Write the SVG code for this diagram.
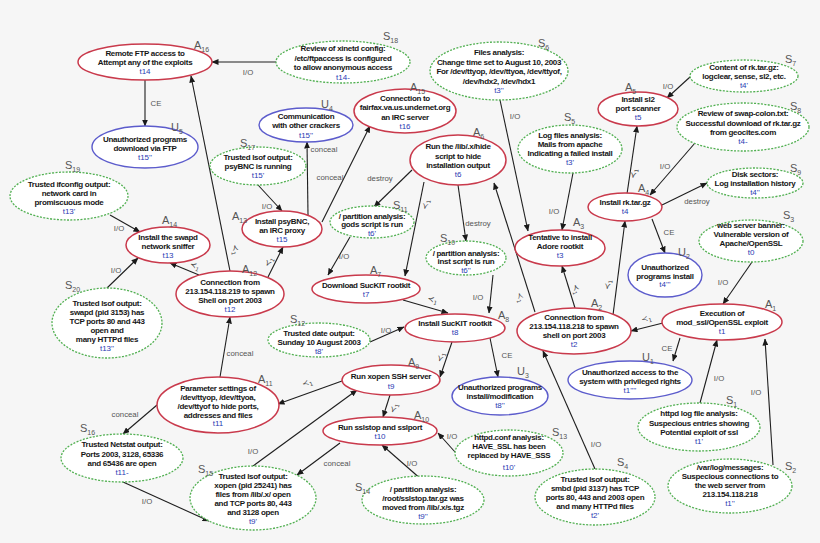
<svg xmlns="http://www.w3.org/2000/svg" width="820" height="543" viewBox="0 0 820 543">
<defs>
<marker id="ah" markerWidth="7" markerHeight="6" refX="6.5" refY="3" orient="auto" markerUnits="userSpaceOnUse">
<path d="M0,0 L7,3 L0,6 z" fill="#1a1a1a"/>
</marker>
<style>
.r{fill:#fff;stroke:#c93a4c;stroke-width:1.5}
.b{fill:#fff;stroke:#5c5ccc;stroke-width:1.4}
.g{fill:#fff;stroke:#52b052;stroke-width:1.3;stroke-dasharray:2 1.4}
.n{font-family:"Liberation Sans",Arial,sans-serif;font-size:8px;font-weight:bold;fill:#161616;text-anchor:middle;letter-spacing:-0.3px}
.t{font-family:"Liberation Sans",Arial,sans-serif;font-size:8px;fill:#2a3bb4;text-anchor:middle}
.id{font-family:"Liberation Sans",Arial,sans-serif;font-size:11px;fill:#555}
.sb{font-size:7px}
.e{font-family:"Liberation Sans",Arial,sans-serif;font-size:7.8px;fill:#555;text-anchor:middle}
.p{font-family:"DejaVu Sans",sans-serif;font-size:8px;fill:#444;text-anchor:middle}
.ps{font-size:5.5px}
#connectors line{stroke:#1e1e1e;stroke-width:1.1;marker-end:url(#ah)}
</style>
</defs>
<rect width="820" height="543" fill="#f6f6f6"/>

<g id="connectors">
<line x1="276" y1="62" x2="212" y2="62"/><text class="e" x="248" y="75">I/O</text>
<line x1="145" y1="80" x2="145" y2="126"/><text class="e" x="156" y="106">CE</text>
<line x1="230" y1="271" x2="191" y2="76"/><text class="p" transform="rotate(79 233 250)" x="233" y="250">≺<tspan class="ps" dy="2">1</tspan></text>
<line x1="308" y1="215" x2="307" y2="142"/><text class="e" x="324" y="152">conceal</text>
<line x1="322" y1="222" x2="370" y2="126"/><text class="e" x="330" y="180">conceal</text>
<line x1="258" y1="185" x2="282" y2="211"/><text class="e" x="267" y="209">I/O</text>
<line x1="268" y1="277" x2="283" y2="247"/><text class="p" transform="rotate(-64 271 263)" x="271" y="263">≺<tspan class="ps" dy="2">1</tspan></text>
<line x1="199" y1="275" x2="170" y2="263"/><text class="p" transform="rotate(22 194 268)" x="194" y="268">≺<tspan class="ps" dy="2">1</tspan></text>
<line x1="110" y1="215" x2="140" y2="232"/><text class="e" x="119" y="231">I/O</text>
<line x1="107" y1="288" x2="138" y2="258"/><text class="e" x="116" y="273">I/O</text>
<line x1="412" y1="170" x2="374" y2="207"/><text class="e" x="380" y="181">destroy</text>
<line x1="458" y1="185" x2="466" y2="241"/><text class="e" x="478" y="226">destroy</text>
<line x1="424" y1="182" x2="405" y2="276"/><text class="p" transform="rotate(-79 428 205)" x="428" y="205">≺<tspan class="ps" dy="2">1</tspan></text>
<line x1="350" y1="237" x2="328" y2="275"/><text class="e" x="344" y="259">I/O</text>
<line x1="493" y1="275" x2="489" y2="313"/><text class="e" x="478" y="300">I/O</text>
<line x1="403" y1="300" x2="448" y2="313"/><text class="p" transform="rotate(16 432 302)" x="432" y="302">≺<tspan class="ps" dy="2">1</tspan></text>
<line x1="370" y1="342" x2="404" y2="327"/><text class="e" x="386" y="333">I/O</text>
<line x1="500" y1="100" x2="528" y2="231"/><text class="e" x="515" y="119">I/O</text>
<line x1="573" y1="173" x2="562" y2="230"/><text class="e" x="554" y="214">I/O</text>
<line x1="575" y1="308" x2="562" y2="266"/><text class="p" transform="rotate(73 574 290)" x="574" y="290">≺<tspan class="ps" dy="2">1</tspan></text>
<line x1="535" y1="312" x2="494" y2="183"/><text class="p" transform="rotate(72 518 298)" x="518" y="298">≺<tspan class="ps" dy="2">1</tspan></text>
<line x1="627" y1="194" x2="637" y2="126"/><text class="p" transform="rotate(-82 636 174)" x="636" y="174">≺<tspan class="ps" dy="2">1</tspan></text>
<line x1="690" y1="77" x2="667" y2="98"/><text class="e" x="668" y="89">I/O</text>
<line x1="695" y1="143" x2="650" y2="195"/><text class="e" x="665" y="169">I/O</text>
<line x1="662" y1="205" x2="707" y2="183"/><text class="e" x="697" y="204">destroy</text>
<line x1="652" y1="219" x2="665" y2="253"/><text class="e" x="669" y="235">CE</text>
<line x1="613" y1="315" x2="625" y2="221"/><text class="p" transform="rotate(-83 610 285)" x="610" y="285">≺<tspan class="ps" dy="2">1</tspan></text>
<line x1="752" y1="262" x2="723" y2="304"/><text class="e" x="723" y="285">I/O</text>
<line x1="663" y1="323" x2="631" y2="331"/><text class="p" transform="rotate(-14 647 321)" x="647" y="321">≺<tspan class="ps" dy="2">1</tspan></text>
<line x1="680" y1="338" x2="673" y2="361"/><text class="e" x="667" y="351">CE</text>
<line x1="700" y1="403" x2="717" y2="340"/><text class="e" x="719" y="381">I/O</text>
<line x1="773" y1="465" x2="765" y2="339"/><text class="e" x="756" y="395">I/O</text>
<line x1="595" y1="469" x2="543" y2="351"/><text class="e" x="596" y="447">I/O</text>
<line x1="452" y1="342" x2="440" y2="377"/><text class="p" transform="rotate(-72 443 358)" x="443" y="358">≺<tspan class="ps" dy="2">1</tspan></text>
<line x1="490" y1="338" x2="498" y2="377"/><text class="e" x="507" y="358">CE</text>
<line x1="342" y1="381" x2="278" y2="404"/><text class="p" transform="rotate(-21 308 385)" x="308" y="385">≺<tspan class="ps" dy="2">1</tspan></text>
<line x1="390" y1="395" x2="383" y2="417"/><text class="p" transform="rotate(-72 396 409)" x="396" y="409">≺<tspan class="ps" dy="2">1</tspan></text>
<line x1="220" y1="377" x2="230" y2="317"/><text class="e" x="240" y="356">conceal</text>
<line x1="157" y1="405" x2="123" y2="434"/><text class="e" x="125" y="417">conceal</text>
<line x1="123" y1="482" x2="209" y2="521"/><text class="e" x="147" y="504">I/O</text>
<line x1="253" y1="466" x2="357" y2="390"/><text class="e" x="253" y="454">I/O</text>
<line x1="340" y1="443" x2="297" y2="475"/><text class="e" x="337" y="466">conceal</text>
<line x1="455" y1="452" x2="438" y2="433"/><text class="e" x="452" y="439">I/O</text>
<line x1="422" y1="480" x2="382" y2="445"/><text class="e" x="412" y="466">I/O</text>
</g>

<g id="A16"><ellipse class="r" cx="145" cy="62" rx="67" ry="18"/><text class="n" x="145" y="56">Remote FTP access to</text><text class="n" x="145" y="65">Attempt any of the exploits</text><text class="t" x="145" y="74">t14</text><text class="id" x="194" y="49">A<tspan class="sb" dy="2.5">16</tspan></text></g>
<g id="U5"><ellipse class="b" cx="145" cy="147" rx="53" ry="21"/><text class="n" x="145" y="141.5">Unauthorized programs</text><text class="n" x="145" y="150.5">download via FTP</text><text class="t" x="145" y="159.5">t15''</text><text class="id" x="171" y="131">U<tspan class="sb" dy="2.5">5</tspan></text></g>
<g id="S18"><text class="id" x="383" y="40">S<tspan class="sb" dy="2.5">18</tspan></text><ellipse class="g" cx="343" cy="62" rx="67" ry="21"/><text class="n" x="343" y="51">Review of xinetd config:</text><text class="n" x="343" y="60.5">/etc/ftpaccess is configured</text><text class="n" x="343" y="70">to allow anonymous access</text><text class="t" x="343" y="79.5">t14-</text></g>
<g id="U4"><ellipse class="b" cx="306" cy="125" rx="47" ry="17"/><text class="n" x="306" y="119">Communication</text><text class="n" x="306" y="128">with other crackers</text><text class="t" x="306" y="137.5">t15''</text><text class="id" x="321" y="108">U<tspan class="sb" dy="2.5">4</tspan></text></g>
<g id="A15"><ellipse class="r" cx="405" cy="111" rx="51" ry="22"/><text class="n" x="405" y="100.5">Connection to</text><text class="n" x="405" y="110">fairfax.va.us.undernet.org</text><text class="n" x="405" y="119.5">an IRC server</text><text class="t" x="405" y="129">t16</text><text class="id" x="410" y="91">A<tspan class="sb" dy="2.5">15</tspan></text></g>
<g id="S17"><ellipse class="g" cx="258" cy="166" rx="48" ry="19"/><text class="n" x="258" y="160">Trusted lsof output:</text><text class="n" x="258" y="169">psyBNC is running</text><text class="t" x="258" y="178">t15'</text><text class="id" x="240" y="147">S<tspan class="sb" dy="2.5">17</tspan></text></g>
<g id="S6"><ellipse class="g" cx="499" cy="71" rx="69" ry="29"/><text class="n" x="499" y="55">Files analysis:</text><text class="n" x="499" y="64.5">Change time set to August 10, 2003</text><text class="n" x="499" y="74">For /dev/ttyop, /dev/ttyoa, /dev/ttyof,</text><text class="n" x="499" y="83.5">/dev/hdx2, /dev/hdx1</text><text class="t" x="499" y="93">t3''</text><text class="id" x="538" y="47">S<tspan class="sb" dy="2.5">6</tspan></text></g>
<g id="S5"><ellipse class="g" cx="570" cy="149" rx="52" ry="24"/><text class="n" x="570" y="138">Log files analysis:</text><text class="n" x="570" y="147">Mails from apache</text><text class="n" x="570" y="156">Indicating  a failed install</text><text class="t" x="570" y="165">t3'</text><text class="id" x="564" y="121">S<tspan class="sb" dy="2.5">5</tspan></text></g>
<g id="A6"><ellipse class="r" cx="458" cy="160" rx="48" ry="25"/><text class="n" x="458" y="149">Run the /lib/.x/hide</text><text class="n" x="458" y="158.5">script to hide</text><text class="n" x="458" y="168">installation output</text><text class="t" x="458" y="177">t6</text><text class="id" x="473" y="136">A<tspan class="sb" dy="2.5">6</tspan></text></g>
<g id="A5"><ellipse class="r" cx="638" cy="109" rx="40" ry="17"/><text class="n" x="638" y="102">Install sl2</text><text class="n" x="638" y="111">port scanner</text><text class="t" x="638" y="120">t5</text><text class="id" x="625" y="91">A<tspan class="sb" dy="2.5">5</tspan></text></g>
<g id="S7"><ellipse class="g" cx="744" cy="76" rx="54" ry="16"/><text class="n" x="744" y="70">Content of rk.tar.gz:</text><text class="n" x="744" y="79">logclear, sense, sl2, etc.</text><text class="t" x="744" y="88">t4'</text><text class="id" x="785" y="63">S<tspan class="sb" dy="2.5">7</tspan></text></g>
<g id="S8"><ellipse class="g" cx="743" cy="127" rx="66" ry="24"/><text class="n" x="743" y="116">Review of swap-colon.txt:</text><text class="n" x="743" y="125.5">Successful download of rk.tar.gz</text><text class="n" x="743" y="135">from geocites.com</text><text class="t" x="743" y="144">t4-</text><text class="id" x="790" y="110">S<tspan class="sb" dy="2.5">8</tspan></text></g>
<g id="S9"><ellipse class="g" cx="755" cy="183" rx="48" ry="15"/><text class="n" x="755" y="176.5">Disk sectors:</text><text class="n" x="755" y="186">Log installation history</text><text class="t" x="755" y="195">t4''</text><text class="id" x="790" y="172">S<tspan class="sb" dy="2.5">9</tspan></text></g>
<g id="S19"><ellipse class="g" cx="69" cy="196" rx="59" ry="24"/><text class="n" x="69" y="187">Trusted ifconfig output:</text><text class="n" x="69" y="196">network card in</text><text class="n" x="69" y="205">promiscuous mode</text><text class="t" x="69" y="214">t13'</text><text class="id" x="65" y="169">S<tspan class="sb" dy="2.5">19</tspan></text></g>
<g id="A14"><ellipse class="r" cx="168" cy="245" rx="42" ry="18"/><text class="n" x="168" y="239.5">Install the swapd</text><text class="n" x="168" y="248.5">network sniffer</text><text class="t" x="168" y="257.5">t13</text><text class="id" x="162" y="224">A<tspan class="sb" dy="2.5">14</tspan></text></g>
<g id="S20"><ellipse class="g" cx="107" cy="323" rx="55" ry="35"/><text class="n" x="107" y="306">Trusted lsof output:</text><text class="n" x="107" y="315">swapd (pid 3153) has</text><text class="n" x="107" y="324">TCP ports 80 and 443</text><text class="n" x="107" y="332.5">open and</text><text class="n" x="107" y="341.5">many HTTPd files</text><text class="t" x="107" y="350.5">t13''</text><text class="id" x="65" y="289">S<tspan class="sb" dy="2.5">20</tspan></text></g>
<g id="A12"><ellipse class="r" cx="230" cy="294" rx="54" ry="23"/><text class="n" x="230" y="285">Connection from</text><text class="n" x="230" y="294">213.154.118.219 to spawn</text><text class="n" x="230" y="303">Shell on port 2003</text><text class="t" x="230" y="312">t12</text><text class="id" x="242" y="273">A<tspan class="sb" dy="2.5">12</tspan></text></g>
<g id="A13"><ellipse class="r" cx="282" cy="229" rx="40" ry="18"/><text class="n" x="282" y="224">Install psyBNC,</text><text class="n" x="282" y="232.5">an IRC proxy</text><text class="t" x="282" y="241.5">t15</text><text class="id" x="232" y="220">A<tspan class="sb" dy="2.5">13</tspan></text></g>
<g id="S11"><ellipse class="g" cx="372" cy="222" rx="42" ry="16"/><text class="n" x="372" y="219">/ partition analysis:</text><text class="n" x="372" y="227">gods script is run</text><text class="t" x="372" y="235.5">t6'</text><text class="id" x="393" y="209">S<tspan class="sb" dy="2.5">11</tspan></text></g>
<g id="A7"><ellipse class="r" cx="366" cy="289" rx="54" ry="14"/><text class="n" x="366" y="288">Download SucKIT rootkit</text><text class="t" x="366" y="297">t7</text><text class="id" x="370" y="274">A<tspan class="sb" dy="2.5">7</tspan></text></g>
<g id="S10"><ellipse class="g" cx="466" cy="258" rx="40" ry="17"/><text class="n" x="466" y="256">/ partition analysis:</text><text class="n" x="466" y="264">inst script is run</text><text class="t" x="466" y="272.5">t6''</text><text class="id" x="440" y="242">S<tspan class="sb" dy="2.5">10</tspan></text></g>
<g id="A8"><ellipse class="r" cx="455" cy="328" rx="50" ry="14"/><text class="n" x="455" y="326">Install SucKIT rootkit</text><text class="t" x="455" y="335">t8</text><text class="id" x="498" y="319">A<tspan class="sb" dy="2.5">8</tspan></text></g>
<g id="S12"><ellipse class="g" cx="319" cy="340" rx="51" ry="17"/><text class="n" x="319" y="336">Trusted date output:</text><text class="n" x="319" y="345">Sunday 10 August 2003</text><text class="t" x="319" y="354">t8'</text><text class="id" x="290" y="323">S<tspan class="sb" dy="2.5">12</tspan></text></g>
<g id="A3"><ellipse class="r" cx="560" cy="248" rx="45" ry="18"/><text class="n" x="560" y="240">Tentative to install</text><text class="n" x="560" y="249">Adore rootkit</text><text class="t" x="560" y="258">t3</text><text class="id" x="573" y="226">A<tspan class="sb" dy="2.5">3</tspan></text></g>
<g id="A2"><ellipse class="r" cx="574" cy="331" rx="57" ry="23"/><text class="n" x="574" y="320">Connection from</text><text class="n" x="574" y="329">213.154.118.218 to spawn</text><text class="n" x="574" y="338">shell on port 2003</text><text class="t" x="574" y="347">t2</text><text class="id" x="591" y="307">A<tspan class="sb" dy="2.5">2</tspan></text></g>
<g id="A4"><ellipse class="r" cx="625" cy="207" rx="37" ry="14"/><text class="n" x="625" y="205">Install rk.tar.gz</text><text class="t" x="625" y="214">t4</text><text class="id" x="638" y="192">A<tspan class="sb" dy="2.5">4</tspan></text></g>
<g id="U2"><ellipse class="b" cx="665" cy="275" rx="37" ry="22"/><text class="n" x="665" y="270">Unauthorized</text><text class="n" x="665" y="278.5">programs install</text><text class="t" x="665" y="287">t4'''</text><text class="id" x="678" y="256">U<tspan class="sb" dy="2.5">2</tspan></text></g>
<g id="S3"><ellipse class="g" cx="751" cy="241" rx="52" ry="21"/><text class="n" x="751" y="228">web server banner:</text><text class="n" x="751" y="237">Vulnerable version of</text><text class="n" x="751" y="246">Apache/OpenSSL</text><text class="t" x="751" y="255">t0</text><text class="id" x="783" y="219">S<tspan class="sb" dy="2.5">3</tspan></text></g>
<g id="A1"><ellipse class="r" cx="722" cy="322" rx="60" ry="18"/><text class="n" x="722" y="316">Execution of</text><text class="n" x="722" y="325">mod_ssl/OpenSSL exploit</text><text class="t" x="722" y="334">t1</text><text class="id" x="765" y="308">A<tspan class="sb" dy="2.5">1</tspan></text></g>
<g id="U1"><ellipse class="b" cx="630" cy="380" rx="62" ry="19"/><text class="n" x="630" y="375">Unauthorized access to the</text><text class="n" x="630" y="384">system with privileged rights</text><text class="t" x="630" y="392.5">t1''''</text><text class="id" x="642" y="361">U<tspan class="sb" dy="2.5">1</tspan></text></g>
<g id="S1"><ellipse class="g" cx="699" cy="427" rx="61" ry="24"/><text class="n" x="699" y="416">httpd log file analysis:</text><text class="n" x="699" y="425.5">Suspecious entries showing</text><text class="n" x="699" y="435">Potential exploit of ssl</text><text class="t" x="699" y="444">t1'</text><text class="id" x="726" y="404">S<tspan class="sb" dy="2.5">1</tspan></text></g>
<g id="S2"><ellipse class="g" cx="730" cy="486" rx="62" ry="27"/><text class="n" x="730" y="470">/var/log/messages:</text><text class="n" x="730" y="479">Suspecious connections to</text><text class="n" x="730" y="488">the web server from</text><text class="n" x="730" y="497">213.154.118.218</text><text class="t" x="730" y="506">t1''</text><text class="id" x="785" y="470">S<tspan class="sb" dy="2.5">2</tspan></text></g>
<g id="S4"><ellipse class="g" cx="595" cy="497" rx="60" ry="28"/><text class="n" x="595" y="482">Trusted lsof output:</text><text class="n" x="595" y="491">smbd (pid 3137) has TCP</text><text class="n" x="595" y="500">ports 80, 443 and 2003 open</text><text class="n" x="595" y="509">and many HTTPd files</text><text class="t" x="595" y="518">t2'</text><text class="id" x="617" y="466">S<tspan class="sb" dy="2.5">4</tspan></text></g>
<g id="U3"><ellipse class="b" cx="500" cy="396" rx="48" ry="19"/><text class="n" x="500" y="390">Unauthorized programs</text><text class="n" x="500" y="399">install/modification</text><text class="t" x="500" y="408">t8''</text><text class="id" x="517" y="375">U<tspan class="sb" dy="2.5">3</tspan></text></g>
<g id="A9"><ellipse class="r" cx="391" cy="380" rx="49" ry="15"/><text class="n" x="391" y="379">Run xopen SSH server</text><text class="t" x="391" y="389">t9</text><text class="id" x="408" y="366">A<tspan class="sb" dy="2.5">9</tspan></text></g>
<g id="A10"><ellipse class="r" cx="380" cy="431" rx="57" ry="14"/><text class="n" x="380" y="430">Run sslstop and sslport</text><text class="t" x="380" y="439">t10</text><text class="id" x="414" y="419">A<tspan class="sb" dy="2.5">10</tspan></text></g>
<g id="S13"><ellipse class="g" cx="509" cy="453" rx="54" ry="23"/><text class="n" x="509" y="440">httpd.conf analysis:</text><text class="n" x="509" y="449">HAVE_SSL has been</text><text class="n" x="509" y="458">replaced by HAVE_SSS</text><text class="t" x="509" y="470">t10'</text><text class="id" x="552" y="436">S<tspan class="sb" dy="2.5">13</tspan></text></g>
<g id="S14"><ellipse class="g" cx="423" cy="500" rx="61" ry="24"/><text class="n" x="423" y="492">/ partition analysis:</text><text class="n" x="423" y="501">/root/sslstop.tar.gz was</text><text class="n" x="423" y="510">moved from /lib/.x/s.tgz</text><text class="t" x="423" y="519">t9''</text><text class="id" x="355" y="491">S<tspan class="sb" dy="2.5">14</tspan></text></g>
<g id="S15"><ellipse class="g" cx="253" cy="498" rx="63" ry="32"/><text class="n" x="253" y="479">Trusted lsof output:</text><text class="n" x="253" y="488">xopen (pid 25241) has</text><text class="n" x="253" y="497">files from /lib/.x/ open</text><text class="n" x="253" y="506">and TCP ports 80, 443</text><text class="n" x="253" y="515">and 3128 open</text><text class="t" x="253" y="524">t9'</text><text class="id" x="198" y="473">S<tspan class="sb" dy="2.5">15</tspan></text></g>
<g id="A11"><ellipse class="r" cx="218" cy="405" rx="61" ry="28"/><text class="n" x="218" y="391">Parameter settings of</text><text class="n" x="218" y="400">/dev/ttyop, /dev/ttyoa,</text><text class="n" x="218" y="409">/dev/ttyof to hide ports,</text><text class="n" x="218" y="417.5">addresses and files</text><text class="t" x="218" y="426">t11</text><text class="id" x="258" y="383">A<tspan class="sb" dy="2.5">11</tspan></text></g>
<g id="S16"><ellipse class="g" cx="122" cy="458" rx="61" ry="24"/><text class="n" x="122" y="447">Trusted Netstat output:</text><text class="n" x="122" y="456.5">Ports 2003, 3128, 65336</text><text class="n" x="122" y="466">and 65436 are open</text><text class="t" x="122" y="475">t11-</text><text class="id" x="80" y="432">S<tspan class="sb" dy="2.5">16</tspan></text></g>
</svg>
